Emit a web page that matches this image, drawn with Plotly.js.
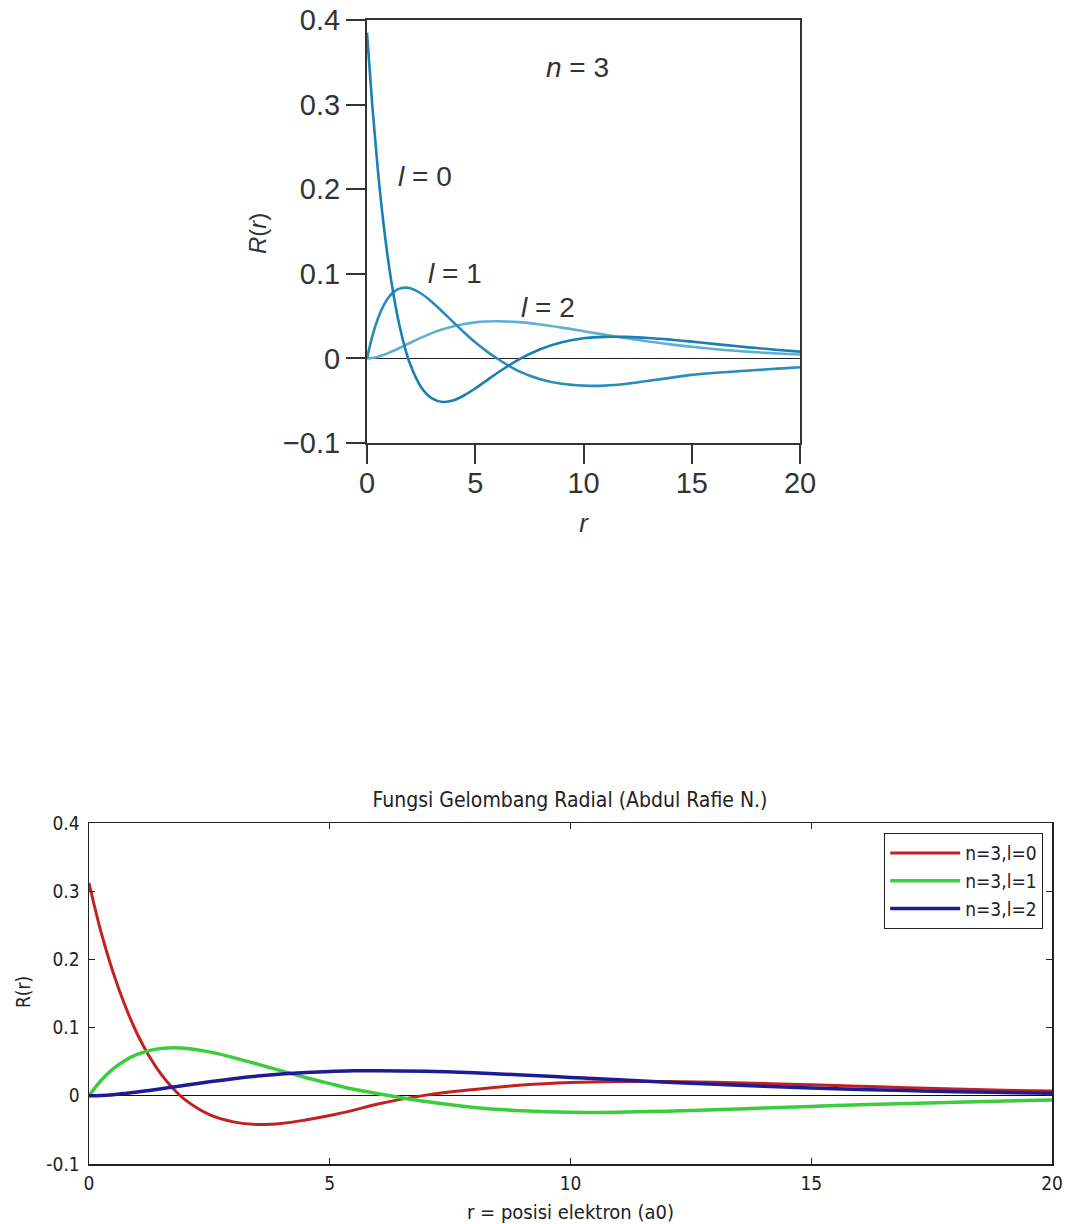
<!DOCTYPE html>
<html>
<head>
<meta charset="utf-8">
<script src="https://cdn.plot.ly/plotly-3.0.1.min.js"></script>
<style>html,body{margin:0;padding:0;background:#fff;}#chart{width:1067px;height:1224px;}</style>
</head>
<body>
<div id="chart"></div>
<script>
// r grid (Bohr radii), shared by both panels
const r = [0, 0.25, 0.5, 0.75, 1, 1.25, 1.5, 1.75, 2, 2.5, 3, 3.5, 4, 4.5, 5, 5.5, 6, 7, 8, 9, 10, 11, 12, 13, 14, 15, 16, 17, 18, 19, 20];

// Top panel (textbook figure), n = 3
const topL0 = [0.385, 0.297, 0.223, 0.162, 0.112, 0.0717, 0.0389, 0.0129, -0.0073, -0.0341, -0.0472, -0.0515, -0.0495, -0.0435, -0.0355, -0.0265, -0.0175, -0.0014, 0.0109, 0.0192, 0.0239, 0.0255, 0.0254, 0.0242, 0.0222, 0.0198, 0.0172, 0.0146, 0.0122, 0.0100, 0.0080];
const topL1 = [0, 0.0267, 0.0469, 0.0618, 0.0722, 0.0789, 0.0825, 0.0837, 0.0828, 0.0767, 0.0667, 0.0549, 0.0425, 0.0304, 0.0190, 0.0089, 0, -0.0150, -0.0245, -0.0300, -0.0322, -0.0322, -0.0300, -0.0265, -0.0230, -0.0195, -0.0172, -0.0155, -0.0138, -0.0121, -0.0105];
const topL2 = [0, 0.0005, 0.0019, 0.0040, 0.0065, 0.0093, 0.0123, 0.0154, 0.0185, 0.0245, 0.0299, 0.0344, 0.0380, 0.0407, 0.0426, 0.0436, 0.0439, 0.0429, 0.0401, 0.0364, 0.0322, 0.0279, 0.0238, 0.0200, 0.0166, 0.0137, 0.0111, 0.0090, 0.0072, 0.0058, 0.0046];

// Bottom panel (MATLAB plot)
const botL0 = [0.312, 0.240, 0.181, 0.132, 0.091, 0.058, 0.0315, 0.0105, -0.006, -0.0276, -0.0382, -0.0420, -0.0405, -0.0355, -0.0290, -0.0210, -0.0120, 0.0010, 0.0092, 0.0158, 0.0195, 0.0210, 0.0209, 0.0198, 0.0181, 0.0161, 0.0140, 0.0119, 0.0100, 0.0083, 0.0069];
const botL1 = [0, 0.0224, 0.0394, 0.0519, 0.0606, 0.0663, 0.0693, 0.0703, 0.0696, 0.0644, 0.0560, 0.0465, 0.0365, 0.0268, 0.0178, 0.0095, 0.0030, -0.0085, -0.0170, -0.0220, -0.0242, -0.0240, -0.0225, -0.0204, -0.0180, -0.0156, -0.0133, -0.0112, -0.0093, -0.0077, -0.0062];
const botL2 = [0, 0.0004, 0.0016, 0.0034, 0.0055, 0.0078, 0.0103, 0.0129, 0.0155, 0.0206, 0.0251, 0.0289, 0.0319, 0.0342, 0.0358, 0.0366, 0.0369, 0.0360, 0.0337, 0.0306, 0.0270, 0.0234, 0.0200, 0.0168, 0.0139, 0.0115, 0.0093, 0.0076, 0.0060, 0.0049, 0.0039];

const legendNames = ["n=3,l=0", "n=3,l=1", "n=3,l=2"];
const topLabels = ["<i>l</i> = 0", "<i>l</i> = 1", "<i>l</i> = 2"];
const yTicksTop = [-0.1, 0, 0.1, 0.2, 0.3, 0.4];
const yTicksBot = [-0.1, 0, 0.1, 0.2, 0.3, 0.4];
const yTickTextBot = ["-0.1", "0", "0.1", "0.2", "0.3", "0.4"];
const xTicks = [0, 5, 10, 15, 20];

const W = 1067, H = 1224;
const fx = px => px / W;
const fy = py => 1 - py / H;

const topFont = "Liberation Sans, Arial, sans-serif";
const botFont = "DejaVu Sans Condensed, Liberation Sans Narrow, Arial, sans-serif";

const traces = [
  {x: r, y: topL2, xaxis: 'x', yaxis: 'y', mode: 'lines', line: {color: '#5eaed8', width: 2.6, shape: 'spline'}, showlegend: false, hoverinfo: 'skip'},
  {x: r, y: topL1, xaxis: 'x', yaxis: 'y', mode: 'lines', line: {color: '#2a8cbd', width: 2.6, shape: 'spline'}, showlegend: false, hoverinfo: 'skip'},
  {x: r, y: topL0, xaxis: 'x', yaxis: 'y', mode: 'lines', line: {color: '#1a80b3', width: 2.6, shape: 'spline'}, showlegend: false, hoverinfo: 'skip'},
  {x: r, y: botL0, xaxis: 'x2', yaxis: 'y2', mode: 'lines', name: legendNames[0], line: {color: '#c4201e', width: 3, shape: 'spline'}},
  {x: r, y: botL1, xaxis: 'x2', yaxis: 'y2', mode: 'lines', name: legendNames[1], line: {color: '#3dcc3d', width: 3.5, shape: 'spline'}},
  {x: r, y: botL2, xaxis: 'x2', yaxis: 'y2', mode: 'lines', name: legendNames[2], line: {color: '#1c1c96', width: 3.5, shape: 'spline'}}
];

const layout = {
  width: W, height: H,
  margin: {l: 0, r: 0, t: 0, b: 0},
  paper_bgcolor: '#ffffff', plot_bgcolor: '#ffffff',
  showlegend: true,
  title: {
    text: 'Fungsi Gelombang Radial (Abdul Rafie N.)',
    x: fx(570), xanchor: 'center', y: fy(800), yanchor: 'middle',
    font: {family: botFont, size: 21, color: '#222'}
  },
  xaxis: {
    domain: [fx(367), fx(800)], range: [0, 20], anchor: 'y',
    tickvals: xTicks, ticks: 'outside', ticklen: 19, tickwidth: 2, tickcolor: '#333',
    ticklabelstandoff: -6,
    showline: true, linecolor: '#333', linewidth: 2, mirror: true,
    showgrid: false, zeroline: false, automargin: false,
    tickfont: {family: topFont, size: 29, color: '#333'},
    title: {text: '<i>r</i>', font: {family: topFont, size: 26, color: '#333'}}
  },
  yaxis: {
    domain: [fy(443), fy(20)], range: [-0.1, 0.4], anchor: 'x',
    tickvals: yTicksTop, ticks: 'outside', ticklen: 19, tickwidth: 2, tickcolor: '#333',
    showline: true, linecolor: '#333', linewidth: 2, mirror: true,
    showgrid: false, zeroline: true, zerolinecolor: '#222', zerolinewidth: 1.5, automargin: false,
    tickfont: {family: topFont, size: 29, color: '#333'}
  },
  xaxis2: {
    domain: [fx(89), fx(1052)], range: [0, 20], anchor: 'y2',
    tickvals: xTicks, ticks: 'inside', ticklen: 6, tickwidth: 1, tickcolor: '#222',
    ticklabelstandoff: 2,
    showline: true, linecolor: '#222', linewidth: 1.5, mirror: 'ticks',
    showgrid: false, zeroline: false, automargin: false,
    tickfont: {family: botFont, size: 19, color: '#222'},
    title: {text: 'r = posisi elektron (a0)', font: {family: botFont, size: 20, color: '#222'}}
  },
  yaxis2: {
    domain: [fy(1164), fy(823)], range: [-0.1, 0.4], anchor: 'x2',
    tickvals: yTicksBot, ticktext: yTickTextBot, ticks: 'inside', ticklen: 6, tickwidth: 1, tickcolor: '#222',
    ticklabelstandoff: 4,
    showline: true, linecolor: '#222', linewidth: 1.5, mirror: 'ticks',
    showgrid: false, zeroline: true, zerolinecolor: '#111', zerolinewidth: 1.2, automargin: false,
    tickfont: {family: botFont, size: 19, color: '#222'}
  },
  legend: {
    x: fx(1043), xanchor: 'right', y: fy(833), yanchor: 'top',
    bgcolor: '#ffffff', bordercolor: '#222', borderwidth: 1.2,
    font: {family: botFont, size: 19, color: '#222'},
    itemwidth: 70,
    tracegroupgap: 0
  },
  annotations: [
    {x: 9.7, y: 0.344, xref: 'x', yref: 'y', text: '<i>n</i> = 3', showarrow: false, font: {family: topFont, size: 28, color: '#333'}},
    {x: 2.68, y: 0.215, xref: 'x', yref: 'y', text: topLabels[0], showarrow: false, font: {family: topFont, size: 28, color: '#333'}},
    {x: 4.06, y: 0.100, xref: 'x', yref: 'y', text: topLabels[1], showarrow: false, font: {family: topFont, size: 28, color: '#333'}},
    {x: 8.36, y: 0.060, xref: 'x', yref: 'y', text: topLabels[2], showarrow: false, font: {family: topFont, size: 28, color: '#333'}},
    // y-axis titles
    {x: fx(258), y: fy(234), xref: 'paper', yref: 'paper', text: '<i>R</i>(<i>r</i>)', textangle: -90, showarrow: false,
     xanchor: 'center', yanchor: 'middle', font: {family: topFont, size: 24, color: '#333'}},
    {x: fx(23), y: fy(992), xref: 'paper', yref: 'paper', text: 'R(r)', textangle: -90, showarrow: false,
     xanchor: 'center', yanchor: 'middle', font: {family: botFont, size: 19, color: '#222'}}
  ]
};

Plotly.newPlot('chart', traces, layout, {displayModeBar: false, staticPlot: true});
</script>
</body>
</html>
